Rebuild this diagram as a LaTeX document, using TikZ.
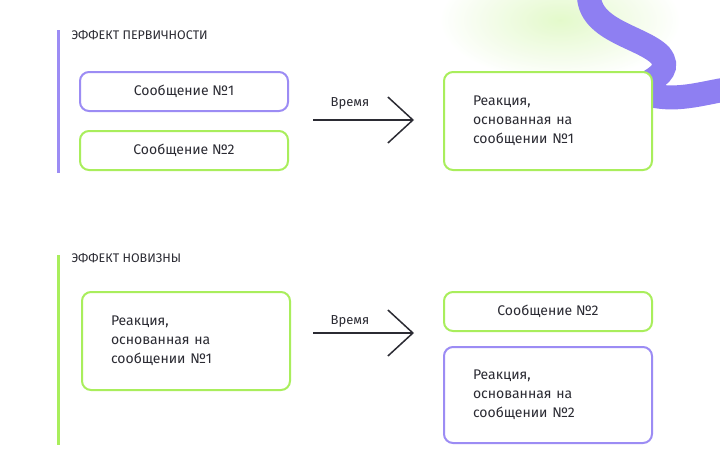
\documentclass[tikz,border=0pt]{standalone}
\usepackage{fontspec}
\setmainfont{Fira Sans}
\usetikzlibrary{arrows.meta}
\definecolor{lilac}{HTML}{9C8CF4}
\definecolor{lime}{HTML}{A9EE5C}
\definecolor{ink}{HTML}{2B2B33}
\definecolor{ribbon}{HTML}{8E7FF2}
\tikzset{
  box/.style={line width=2pt,rounded corners=9pt,fill=white,text=ink,font=\fontsize{14}{19}\selectfont},
  msg/.style={box,minimum width=208pt,minimum height=39pt},
  big/.style={box,minimum width=208pt,minimum height=98pt,align=left,text width=150pt},
  title/.style={anchor=west,text=ink,font=\fontsize{12.5}{14}\selectfont},
  timeline/.style={line width=1.5pt,draw=ink,-{Straight Barb[length=25pt,width=46pt,line width=1.5pt]}},
  when/.style={text=ink,font=\fontsize{13}{15}\selectfont},
  bar/.style={line width=3pt}
}
\begin{document}
\begin{tikzpicture}[x=1pt,y=-1pt]
\path[use as bounding box,fill=white] (0,0) rectangle (720,464);
% glow and ribbon
\shade[inner color=lime!45,outer color=white,opacity=0.7] (560,20) ellipse (120 and 60);
\draw[ribbon,line width=24pt,line cap=round] (590,-15) .. controls (580,30) and (640,35) .. (660,55)
  .. controls (680,80) and (620,85) .. (650,95) .. controls (680,102) and (705,92) .. (735,88);
% primacy effect
\draw[bar,lilac] (58,30) -- (58,173);
\node[title] (t1) at (68,35) {ЭФФЕКТ ПЕРВИЧНОСТИ};
\node[msg,draw=lilac] (m1) at (184,91.5) {Сообщение №1};
\node[msg,draw=lime] (m2) at (184,150.5) {Сообщение №2};
\node[big,draw=lime] (r1) at (548,121) {Реакция,\\основанная на\\сообщении №1};
\coordinate (a1) at (313,120);
\coordinate (b1) at (414,120);
\draw[timeline] (a1) -- (b1);
\node[when] (w1) at (350,103) {Время};
% recency effect
\draw[bar,lime] (58,255) -- (58,445);
\node[title] (t2) at (68,258) {ЭФФЕКТ НОВИЗНЫ};
\node[big,draw=lime] (r2) at (186,341) {Реакция,\\основанная на\\сообщении №1};
\node[msg,draw=lime] (m3) at (548,311.5) {Сообщение №2};
\node[big,draw=lilac,minimum height=96pt] (r3) at (548,395) {Реакция,\\основанная на\\сообщении №2};
\coordinate (a2) at (313,333);
\coordinate (b2) at (414,333);
\draw[timeline] (a2) -- (b2);
\node[when] (w2) at (350,321) {Время};
\end{tikzpicture}
\end{document}
